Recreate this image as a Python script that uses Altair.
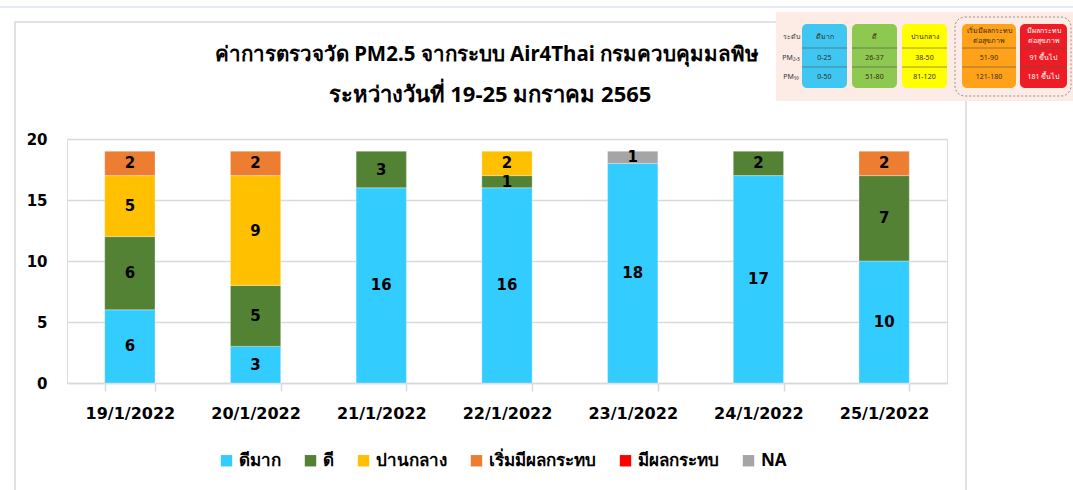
import altair as alt
import pandas as pd

# ---------------- data ----------------
dates = ["19/1/2022", "20/1/2022", "21/1/2022", "22/1/2022", "23/1/2022", "24/1/2022", "25/1/2022"]
categories = ["ดีมาก", "ดี", "ปานกลาง", "เริ่มมีผลกระทบ", "มีผลกระทบ", "NA"]
colors = ["#33CCFF", "#548235", "#FFC000", "#ED7D31", "#FF0000", "#A5A5A5"]

very_good = [6, 3, 16, 16, 18, 17, 10]
good = [6, 5, 3, 1, 0, 2, 7]
moderate = [5, 9, 0, 2, 0, 0, 0]
starting_effect = [2, 2, 0, 0, 0, 0, 2]
affected = [0, 0, 0, 0, 0, 0, 0]
na = [0, 0, 0, 0, 1, 0, 0]

y_ticks = [0, 5, 10, 15, 20]

title_lines = ["ค่าการตรวจวัด PM2.5 จากระบบ Air4Thai กรมควบคุมมลพิษ", "ระหว่างวันที่ 19-25 มกราคม 2565"]

# inset (AQI level table) texts
inset_row_labels = ["ระดับ", "PM₂.₅", "PM₁₀"]
inset_levels = [["ดีมาก"], ["ดี"], ["ปานกลาง"], ["เริ่มมีผลกระทบ", "ต่อสุขภาพ"], ["มีผลกระทบ", "ต่อสุขภาพ"]]
inset_pm25 = ["0-25", "26-37", "38-50", "51-90", "91 ขึ้นไป"]
inset_pm10 = ["0-50", "51-80", "81-120", "121-180", "181 ขึ้นไป"]
inset_colors = ["#3FC7F2", "#8DC850", "#FFFF00", "#FFA219", "#EE1D25"]

# --------------- build table ---------------
series = [very_good, good, moderate, starting_effect, affected, na]
rows = []
for ci, (cat, vals) in enumerate(zip(categories, series)):
    for d, v in zip(dates, vals):
        rows.append({"date": d, "cat": cat, "idx": ci, "v": v})
df = pd.DataFrame(rows)
df = df[df["v"] > 0]

# --------------- layout ---------------
PL, PT = 67, 139          # plot area left/top in page pixels
W, H = 880, 244
PR, PB = 1073 - PL - W, 490 - PT - H

one = pd.DataFrame({"a": [0]})

def rect(x1, y1, x2, y2, **kw):
    return alt.Chart(one).mark_rect(**kw).encode(
        x=alt.value(x1 - PL), x2=alt.value(x2 - PL),
        y=alt.value(y1 - PT), y2=alt.value(y2 - PT))

def rule(x1, y1, x2, y2, **kw):
    return alt.Chart(one).mark_rule(**kw).encode(
        x=alt.value(x1 - PL), x2=alt.value(x2 - PL),
        y=alt.value(y1 - PT), y2=alt.value(y2 - PT))

def text(t, x, y, **kw):
    return alt.Chart(one).mark_text(text=t, **kw).encode(
        x=alt.value(x - PL), y=alt.value(y - PT))

FONT = "Noto Sans"
NUMFONT = "DejaVu Sans"

# frame & top line
frame = rect(15, 22, 966, 520, fill=None, stroke="#D9D9D9", strokeWidth=1.5)
topline = rule(0, 7, 1073, 7, color="#DCE6F2", strokeWidth=1.5)

# title as text marks
title1 = text(title_lines[0], 487, 55, font=FONT, fontSize=20.5, fontWeight="bold", color="black",
              baseline="middle")
title2 = text(title_lines[1], 490, 95, font=FONT, fontSize=22, fontWeight="bold", color="black",
              baseline="middle")

base = alt.Chart(df).transform_stack(
    stack="v", as_=["y0", "y1"], groupby=["date"], sort=[alt.SortField("idx", order="ascending")]
)

x_enc = alt.X("date:N", sort=dates, title=None,
              scale=alt.Scale(paddingInner=0.6, paddingOuter=0.3),
              axis=alt.Axis(labelAngle=0, labelFont=NUMFONT, labelFontSize=16, labelFontWeight="bold",
                            labelColor="black", domainColor="#D9D9D9", domainWidth=1.5,
                            tickColor="#D9D9D9", tickWidth=1.5, tickSize=8, tickBand="extent",
                            labelPadding=14, grid=False))

bars = base.mark_bar(stroke="white", strokeWidth=0.5, strokeOpacity=0.6).encode(
    x=x_enc,
    y=alt.Y("y0:Q", title=None,
            scale=alt.Scale(domain=[0, 20], nice=False),
            axis=alt.Axis(values=y_ticks, labelFont=NUMFONT, labelFontSize=15, labelFontWeight="bold",
                          labelColor="black", domain=False, ticks=False, labelPadding=20,
                          gridColor="#D9D9D9", gridWidth=1.5)),
    y2="y1:Q",
    color=alt.Color("cat:N", scale=alt.Scale(domain=categories, range=colors), title=None,
                    legend=alt.Legend(orient="none", legendX=151, legendY=313, direction="horizontal",
                                      columns=6, symbolType="square", symbolSize=130,
                                      symbolStrokeWidth=0, labelFont=FONT, labelFontSize=17,
                                      labelFontWeight="bold", labelColor="black", columnPadding=21,
                                      labelOffset=4, padding=0)),
)

labels = base.transform_calculate(mid="(datum.y0 + datum.y1) / 2").mark_text(
    font=NUMFONT, fontSize=15, fontWeight="bold", color="black", baseline="middle"
).encode(
    x=alt.X("date:N", sort=dates),
    y=alt.Y("mid:Q"),
    text="v:Q",
)

# inset
inset_layers = [rect(776, 12, 1073, 101, fill="#FCECE5")]
box_x = [(802, 847), (852, 897), (902, 947), (962, 1016), (1020, 1067)]
inset_layers.append(rect(955, 17, 1071, 96, fill=None, stroke="#9A8C88", strokeDash=[2, 2],
                         strokeWidth=1, cornerRadius=10))
for (x1, x2), col, lev, p25, p10, i in zip(box_x, inset_colors, inset_levels, inset_pm25, inset_pm10, range(5)):
    tc = "white" if i == 4 else "#3A2A10"
    inset_layers.append(rect(x1, 24, x2, 88, fill=col, cornerRadius=5))
    inset_layers.append(rule(x1, 48, x2, 48, color="#555555", strokeWidth=1, opacity=0.6))
    inset_layers.append(rule(x1, 67, x2, 67, color="#555555", strokeWidth=1, opacity=0.6))
    cx = (x1 + x2) / 2
    if len(lev) == 1:
        inset_layers.append(text(lev[0], cx, 37, font=FONT, fontSize=7, color=tc))
    else:
        inset_layers.append(text(lev[0], cx, 31, font=FONT, fontSize=7, color=tc))
        inset_layers.append(text(lev[1], cx, 41, font=FONT, fontSize=7, color=tc))
    inset_layers.append(text(p25, cx, 58, font=FONT, fontSize=7, color=tc))
    inset_layers.append(text(p10, cx, 77, font=FONT, fontSize=7, color=tc))
for lab, yy in zip(inset_row_labels, [37, 58, 77]):
    inset_layers.append(text(lab, 791, yy, font=FONT, fontSize=7, color="#333333"))

chart = alt.layer(frame, topline, title1, title2, bars, labels, *inset_layers).properties(
    width=W, height=H,
    padding={"left": PL, "top": PT, "right": PR, "bottom": PB},
    autosize=alt.AutoSizeParams(type="none"),
).configure_view(stroke=None).configure(background="white")

chart.save("out.html", embed_options={"renderer": "svg", "actions": False})
